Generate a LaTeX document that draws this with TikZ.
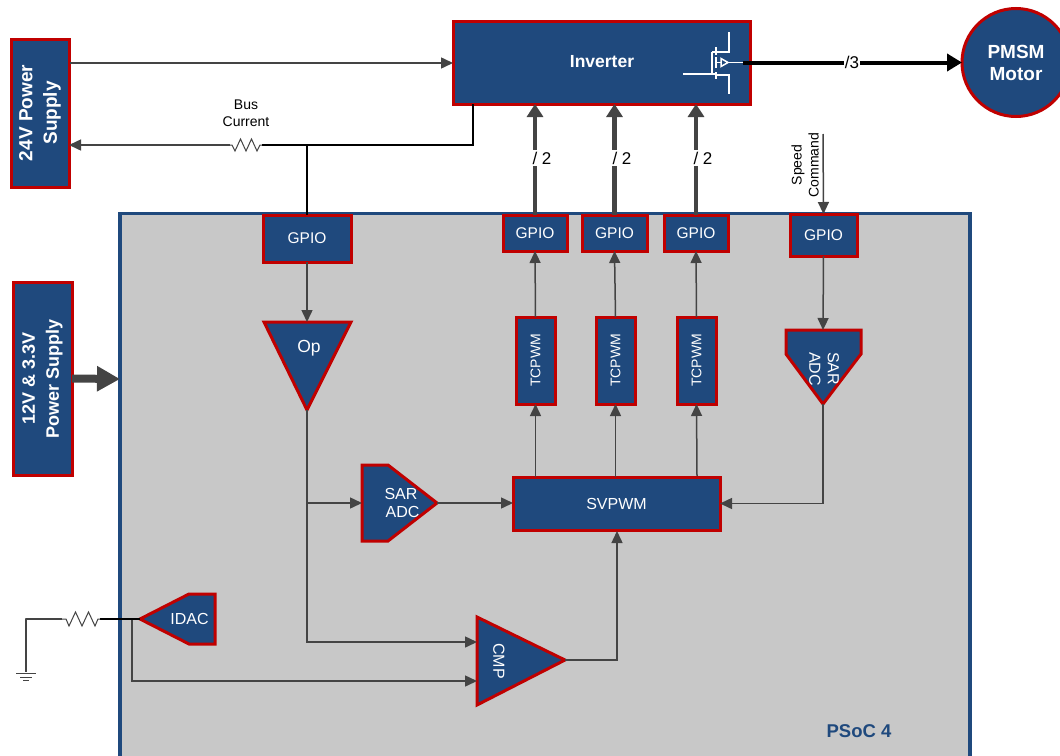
\documentclass[tikz,border=0pt]{standalone}
\usepackage{fontspec}
\setmainfont{Liberation Sans}
\usetikzlibrary{arrows.meta,calc}
\definecolor{nfill}{HTML}{1F497D}
\definecolor{nedge}{HTML}{C00000}
\definecolor{wire}{HTML}{444444}
\definecolor{chip}{HTML}{C8C8C8}
\tikzset{
  box/.style={draw=nedge,fill=nfill,line width=3pt,text=white,inner sep=0pt,outer sep=0pt,align=center,font=\fontsize{15.5}{18}\selectfont},
  poly/.style={draw=nedge,fill=nfill,line width=3pt,line join=miter},
  lbl/.style={text=white,inner sep=0pt,align=center,font=\fontsize{16}{18.5}\selectfont},
  thin wire/.style={draw=wire,line width=1.5pt,-{Triangle[length=12pt,width=11pt,fill=wire]}},
  plain wire/.style={draw=wire,line width=1.5pt},
  bus wire/.style={draw=black,line width=1.5pt},
  thick wire/.style={draw=wire,line width=4.5pt,-{Triangle[length=13pt,width=16pt,fill=wire]}},
  tag/.style={fill=white,inner sep=1.5pt,font=\fontsize{17}{19}\selectfont},
  res/.style={draw=wire,line width=1pt,line join=miter},
  mos/.style={draw=white,line width=1.8pt},
  small/.style={inner sep=0pt,align=center,font=\fontsize{14}{17}\selectfont}
}
\begin{document}
\begin{tikzpicture}[x=1pt,y=-1pt]
\clip (0,0) rectangle (1060,755);
\fill[white] (0,0) rectangle (1060,755);
% chip
\draw[fill=chip,draw=nfill,line width=3.5pt] (120,213.5) rectangle (970,800);
\node[text=nfill,font=\bfseries\fontsize{18.5}{21}\selectfont,inner sep=0pt] (psoc) at (859,731) {PSoC 4};
% top level
\node[box,minimum width=297pt,minimum height=83pt] (inv) at (601.5,62.5) {};
\node[lbl,font=\bfseries\fontsize{17.5}{20}\selectfont] (invt) at (602,62) {Inverter};
\node[box,rotate=90,font=\bfseries\fontsize{19}{24.5}\selectfont,minimum width=148pt,minimum height=58pt] (p24) at (40,113) {24V Power\\Supply};
\node[box,rotate=90,font=\bfseries\fontsize{18}{24}\selectfont,minimum width=193pt,minimum height=59pt] (p12) at (42.5,378.5) {12V \& 3.3V\\Power Supply};
\node[circle,box,minimum size=108pt,font=\bfseries\fontsize{19}{22}\selectfont] (pmsm) at (1016,62.5) {PMSM\\Motor};
% GPIO
\node[box,minimum width=88pt,minimum height=47pt] (g1) at (307,238.5) {GPIO};
\node[box,minimum width=64pt,minimum height=36pt] (g2) at (535,233) {GPIO};
\node[box,minimum width=65pt,minimum height=36pt] (g3) at (614.5,233) {GPIO};
\node[box,minimum width=64pt,minimum height=36pt] (g4) at (696,233) {GPIO};
\node[box,minimum width=67pt,minimum height=42pt] (g5) at (823.5,235) {GPIO};
% TCPWM
\node[box,rotate=90,minimum width=87pt,minimum height=39pt,font=\fontsize{14}{16}\selectfont] (t1) at (535.5,360.5) {TCPWM};
\node[box,rotate=90,minimum width=87pt,minimum height=39pt,font=\fontsize{14}{16}\selectfont] (t2) at (615.5,360.5) {TCPWM};
\node[box,rotate=90,minimum width=87pt,minimum height=39pt,font=\fontsize{14}{16}\selectfont] (t3) at (696.5,360.5) {TCPWM};
\node[box,minimum width=207pt,minimum height=53pt,font=\fontsize{16}{18}\selectfont] (sv) at (616.5,503.5) {SVPWM};
% polygons
\draw[poly] (264,322) -- (351,322) -- (307,410) -- cycle;
\coordinate (optop) at (307,322); \coordinate (optip) at (307,410);
\node[lbl,font=\fontsize{17.5}{20}\selectfont] (op) at (309,348) {Op};
\draw[poly] (786,330) -- (861,330) -- (861,354) -- (823,404) -- (786,354) -- cycle;
\coordinate (sartop) at (823,330); \coordinate (sartip) at (823,404);
\node[lbl,rotate=-90,align=left] (sar2) at (824,369) {SAR\\ADC};
\draw[poly] (362,465) -- (388,465) -- (437,503) -- (388,541) -- (362,541) -- cycle;
\coordinate (sarin) at (362,503); \coordinate (sarout) at (437,503);
\node[lbl] (sar1) at (401,503) {SAR\\\hspace*{3pt}ADC};
\draw[poly] (477,617) -- (477,705) -- (565,660) -- cycle;
\coordinate (cmpa) at (477,642); \coordinate (cmpb) at (477,681); \coordinate (cmpo) at (565,660);
\node[lbl,rotate=-90] (cmp) at (499,661) {CMP};
\draw[poly] (140,619) -- (189,594) -- (215,594) -- (215,644) -- (189,644) -- cycle;
\coordinate (idac) at (140,619);
\node[lbl] (idact) at (189.5,618.5) {IDAC};
% upper wiring
\coordinate (pin) at (70,63);
\draw[thin wire] (pin) -- (inv.west |- pin);
\coordinate (r1a) at (262,145); \coordinate (r1b) at (230,145);
\coordinate (bj) at (307,145); \coordinate (bi) at (473,145);
\draw[bus wire] (inv.south -| bi) -- (bi) -- (r1a);
\draw[bus wire] (bj) -- (g1.north);
\draw[res] (r1a) -- ++(-2,0) -- ++(-3,6) -- ++(-5.5,-12) -- ++(-5.5,12) -- ++(-5.5,-12) -- ++(-5.5,12) -- ++(-3,-6) -- (r1b);
\draw[thin wire] (r1b) -- (p24.south |- r1b);
\node[small] (bus) at (246,113) {Bus\\Current};
% thick gpio to inverter
\foreach \g/\l in {g2/a,g3/b,g4/c}{
  \draw[thick wire] (\g.north) -- (\g.north |- inv.south);
}
\node[tag] (s2a) at (542,158) {/ 2};
\node[tag] (s2b) at (622,158) {/ 2};
\node[tag] (s2c) at (703,158) {/ 2};
\draw[draw=black,line width=4pt,-{Triangle[length=15pt,width=17pt,fill=black]}] (743,62.5) -- (pmsm.west);
\node[tag,inner sep=1pt] (s3) at (852,62) {/3};
\draw[mos] (683,74) -- (715,74) (712,52) -- (712,74);
\draw[mos,line join=miter] (712,52) -- (729,52) -- (729,32) (715,75) -- (729,75) -- (729,94);
\draw[mos] (716,47) -- (716,55) (716,57) -- (716,68) (716,72) -- (716,79);
\draw[mos] (716,62.5) -- (743,62.5);
\draw[mos,fill=nfill,line width=1.5pt] (721,58.5) -- (728,62.5) -- (721,66.5) -- cycle;
% speed
\coordinate (sp) at (823,134);
\draw[thin wire] (sp) -- (g5.north);
\node[small,rotate=90] (spd) at (805,165) {Speed\\Command};
\draw[draw=wire,line width=8pt,-{Triangle[length=23pt,width=24pt,fill=wire]}] (p12.south) -- (120,379);
% internal
\draw[thin wire] (g1.south) -- (optop);
\draw[thin wire] (t1.east) -- (g2.south);
\draw[thin wire] (t2.east) -- (g3.south);
\draw[thin wire] (t3.east) -- (g4.south);
\draw[thin wire] (sv.north -| t1.west) -- (t1.west);
\draw[thin wire] (sv.north -| t2.west) -- (t2.west);
\draw[thin wire] (697,476) -- (t3.west);
\draw[thin wire] (g5.south) -- (sartop);
\draw[thin wire] (sartip) -- (sartip |- sv.east) -- (sv.east);
\draw[thin wire] (optip) -- (optip |- cmpa) -- (cmpa);
\draw[thin wire] (optip |- sarin) -- (sarin);
\draw[thin wire] (sarout) -- (sv.west |- sarout);
\draw[thin wire] (cmpo) -- (617,660) -- (617,531);
\coordinate (ij) at (132,619);
\draw[thin wire] (ij) -- (ij |- cmpb) -- (cmpb);
\coordinate (r2a) at (100,619); \coordinate (r2b) at (62,619); \coordinate (gnd) at (26,672);
\draw[bus wire,line width=1.3pt] (idac) -- (r2a);
\draw[res] (r2a) -- ++(-2,0) -- ++(-3,7) -- ++(-6.5,-14) -- ++(-6.5,14) -- ++(-6.5,-14) -- ++(-6.5,14) -- ++(-3,-7) -- (r2b);
\draw[plain wire,line join=round] (r2b) -- (gnd |- r2b) -- (gnd);
\draw[plain wire,line width=1pt] (16,673) -- (36,673) (20,677) -- (32,677) (23,680) -- (29,680);
\end{tikzpicture}
\end{document}
